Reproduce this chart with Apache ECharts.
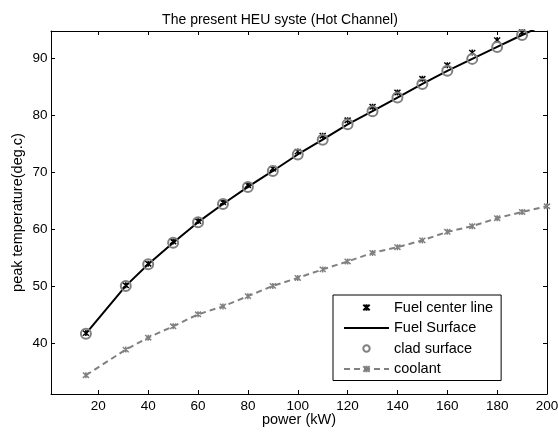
<!DOCTYPE html>
<html>
<head>
<meta charset="utf-8">
<script src="https://cdn.jsdelivr.net/npm/echarts@6/dist/echarts.min.js"></script>
<style>
  html, body { margin: 0; padding: 0; background: #fff; }
  #chart { width: 558px; height: 432px; }
</style>
</head>
<body>
<div id="chart"></div>
<script>
// Reactor power levels (kW)
const power = [15, 31, 40, 50, 60, 70, 80, 90, 100, 110, 120, 130, 140, 150, 160, 170, 180, 190, 200];

// Peak temperatures (deg.C) in the hot channel
const fuelCenter  = [41.7, 50.1, 53.9, 57.8, 61.4, 64.7, 67.7, 70.6, 73.6, 76.4, 79.1, 81.5, 84.0, 86.4, 88.8, 91.0, 93.2, 94.6, 97.4];
const fuelSurface = [41.6, 50.0, 53.8, 57.6, 61.2, 64.4, 67.4, 70.2, 73.1, 75.7, 78.4, 80.7, 83.1, 85.5, 87.8, 89.9, 92.0, 94.1, 96.1];
const cladSurface = [41.6, 50.0, 53.8, 57.6, 61.2, 64.4, 67.4, 70.2, 73.1, 75.7, 78.4, 80.7, 83.1, 85.5, 87.8, 89.9, 92.0, 94.1, 96.1];
const coolant     = [34.3, 38.8, 40.9, 42.9, 45.0, 46.4, 48.2, 50.0, 51.4, 52.9, 54.3, 55.8, 56.8, 58.0, 59.5, 60.5, 61.9, 63.0, 64.0];

// Axis ticks
const xTicks = [20, 40, 60, 80, 100, 120, 140, 160, 180, 200];
const yTicks = [40, 50, 60, 70, 80, 90];

const seriesNames = ['Fuel center line', 'Fuel Surface', 'clad surface', 'coolant'];

const FONT = 'Liberation Sans, Arial, Helvetica, sans-serif';
const GRAY = '#808080';
const STAR = 'path://M-4,-4L4,4M-4,4L4,-4M0,-4.5L0,4.5';

const pairs = ys => power.map((x, i) => [x, ys[i]]);

const baseX = {
  type: 'value', min: 1, max: 200,
  axisLine: { show: true, onZero: false, lineStyle: { color: '#000', width: 1 } },
  splitLine: { show: false },
  axisTick: { show: true, inside: true, length: 4, customValues: xTicks, lineStyle: { color: '#000' } },
  axisLabel: { customValues: xTicks, color: '#000', fontFamily: FONT, fontSize: 13.5, margin: 5 }
};
const baseY = {
  type: 'value', min: 31, max: 94.8,
  axisLine: { show: true, onZero: false, lineStyle: { color: '#000', width: 1 } },
  splitLine: { show: false },
  axisTick: { show: true, inside: true, length: 4, customValues: yTicks, lineStyle: { color: '#000' } },
  axisLabel: { customValues: yTicks, color: '#000', fontFamily: FONT, fontSize: 13.5, margin: 3.5 }
};

const chart = echarts.init(document.getElementById('chart'), null, { renderer: 'canvas' });
chart.setOption({
  animation: false,
  backgroundColor: '#fff',
  title: {
    text: 'The present HEU syste (Hot Channel)',
    left: 275, top: 8, textAlign: 'center',
    textStyle: { fontFamily: FONT, fontSize: 14, fontWeight: 'normal', color: '#000' }
  },
  grid: { left: 51, right: 11, top: 31, bottom: 38, outerBoundsMode: 'none', containLabel: false },
  xAxis: [
    Object.assign({}, baseX, {
      position: 'bottom',
      name: 'power (kW)', nameLocation: 'middle', nameGap: 18.5, nameMoveOverlap: false,
      nameTextStyle: { fontFamily: FONT, fontSize: 14.5, color: '#000' }
    }),
    Object.assign({}, baseX, { position: 'top', axisLabel: { show: false } })
  ],
  yAxis: [
    Object.assign({}, baseY, {
      position: 'left',
      name: 'peak temperature(deg.c)', nameLocation: 'middle', nameGap: 25.5, nameMoveOverlap: false,
      nameTextStyle: { fontFamily: FONT, fontSize: 14.5, color: '#000' }
    }),
    Object.assign({}, baseY, { position: 'right', axisLabel: { show: false } })
  ],
  legend: {
    orient: 'vertical',
    left: 333, top: 295,
    data: [
      seriesNames[0],
      { name: seriesNames[1], itemStyle: { color: 'transparent', borderColor: 'transparent', borderWidth: 0 } },
      seriesNames[2],
      seriesNames[3]
    ],
    itemWidth: 45, itemHeight: 8, itemGap: 3.5,
    padding: [4, 8, 3, 10],
    borderColor: '#000', borderWidth: 1, borderRadius: 0,
    backgroundColor: '#fff',
    selectedMode: false,
    textStyle: { fontFamily: FONT, fontSize: 14.5, color: '#000', lineHeight: 17 }
  },
  series: [
    {
      name: seriesNames[0], type: 'line', data: pairs(fuelCenter), clip: true,
      symbol: STAR, symbolSize: 6, z: 3,
      lineStyle: { width: 0 },
      itemStyle: { color: '#000', borderColor: '#000', borderWidth: 1.5 }
    },
    {
      name: seriesNames[1], type: 'line', data: pairs(fuelSurface), clip: true,
      symbol: 'none', z: 2,
      lineStyle: { color: '#000', width: 2 },
      itemStyle: { color: '#000' }
    },
    {
      name: seriesNames[2], type: 'line', data: pairs(cladSurface), clip: true,
      symbol: 'circle', symbolSize: 10, z: 4,
      lineStyle: { width: 0 },
      itemStyle: { color: 'none', borderColor: GRAY, borderWidth: 2 }
    },
    {
      name: seriesNames[3], type: 'line', data: pairs(coolant), clip: true,
      symbol: STAR, symbolSize: 6, z: 2,
      lineStyle: { color: GRAY, width: 2, type: [6, 4] },
      itemStyle: { color: GRAY, borderColor: GRAY, borderWidth: 1.5 }
    }
  ]
});
</script>
</body>
</html>
